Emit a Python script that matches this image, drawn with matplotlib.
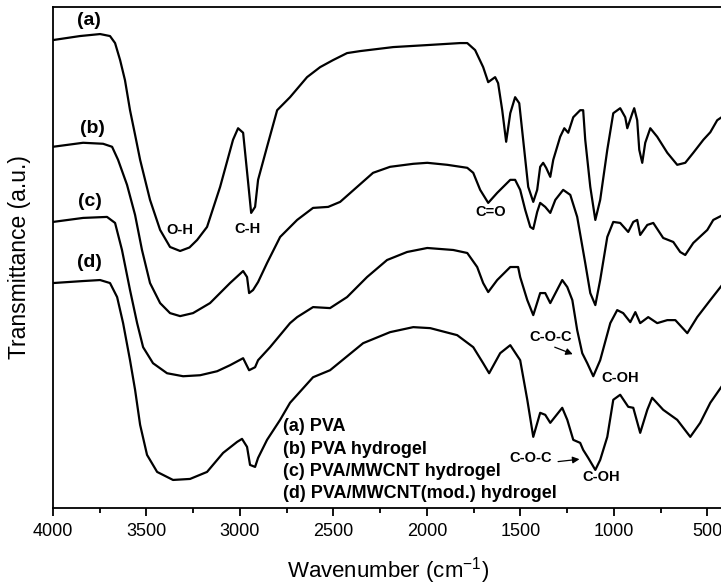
import matplotlib
matplotlib.use("Agg")
import matplotlib.pyplot as plt

plt.rcParams['font.family'] = ['Liberation Sans', 'DejaVu Sans']
plt.rcParams['mathtext.default'] = 'regular'

# FTIR spectra, wavenumber (cm-1) vs transmittance (a.u., offset)
wn_a = [4000, 3856, 3748, 3695, 3668, 3641, 3615, 3588, 3561, 3534, 3481, 3427, 3374, 3320, 3270,
        3229, 3176, 3106, 3037, 3010, 2983, 2956, 2940, 2919, 2903, 2855, 2801, 2732, 2641, 2571,
        2502, 2427, 2357, 2180, 1998, 1822, 1784, 1742, 1699, 1672, 1635, 1619, 1597, 1576, 1554,
        1528, 1506, 1485, 1458, 1431, 1410, 1394, 1378, 1362, 1340, 1324, 1287, 1265, 1244, 1217,
        1180, 1164, 1153, 1126, 1099, 1073, 1035, 1003, 966, 939, 928, 901, 891, 875, 864,
        848, 832, 805, 768, 714, 661, 618, 575, 521, 484, 447, 400]
t_a = [93.4, 94.2, 94.6, 94.2, 92.8, 89.4, 85.4, 79.4, 74.5, 69.5, 61.5, 55.5, 52.1, 51.3, 52.0,
       53.5, 56.1, 64.1, 73.5, 75.8, 74.9, 64.9, 58.9, 60.1, 65.5, 72.1, 79.4, 82.0, 86.0, 88.0,
       89.4, 90.8, 91.2, 92.0, 92.4, 92.8, 92.8, 91.4, 88.0, 85.0, 86.0, 84.8, 79.4, 73.1, 78.8,
       82.0, 80.8, 73.5, 64.1, 61.1, 63.5, 68.1, 68.9, 67.9, 66.1, 69.5, 74.1, 75.8, 74.9, 78.0,
       79.4, 79.4, 73.5, 64.1, 57.5, 61.5, 71.5, 78.8, 79.8, 78.0, 75.8, 78.8, 79.8, 77.4, 71.5,
       68.9, 72.9, 75.8, 74.1, 70.9, 68.5, 68.9, 70.9, 73.5, 75.0, 77.4, 78.6]

wn_b = [4000, 3839, 3732, 3684, 3652, 3604, 3561, 3524, 3481, 3427, 3374, 3320, 3251, 3160, 3053,
        2983, 2962, 2951, 2930, 2903, 2855, 2785, 2694, 2609, 2528, 2464, 2373, 2288, 2197, 2073,
        1998, 1891, 1784, 1752, 1715, 1672, 1624, 1554, 1528, 1501, 1474, 1447, 1431, 1410, 1394,
        1367, 1340, 1313, 1271, 1233, 1196, 1153, 1126, 1099, 1073, 1035, 1003, 966, 923, 896,
        875, 859, 821, 789, 736, 682, 645, 618, 575, 500, 468, 400]
t_b = [72.1, 72.9, 72.7, 72.1, 69.5, 64.5, 58.5, 51.5, 44.9, 40.9, 38.9, 38.3, 38.9, 40.9, 44.9,
       47.3, 46.1, 42.9, 43.5, 45.1, 48.9, 54.1, 57.5, 59.9, 60.1, 61.1, 64.1, 66.9, 68.1, 68.7,
       68.9, 68.5, 67.9, 66.9, 63.5, 60.9, 62.9, 65.5, 65.5, 63.5, 59.5, 56.1, 55.7, 59.1, 60.9,
       60.1, 58.9, 61.5, 63.5, 62.5, 58.1, 48.9, 42.9, 40.5, 45.5, 54.1, 57.1, 56.9, 55.1, 57.1,
       57.5, 54.5, 56.5, 56.9, 53.9, 53.1, 51.1, 50.5, 52.9, 55.5, 57.5, 58.8]

wn_c = [4000, 3839, 3711, 3668, 3631, 3588, 3550, 3518, 3465, 3390, 3304, 3213, 3122, 3053, 2983,
        2951, 2919, 2903, 2839, 2732, 2694, 2609, 2518, 2427, 2320, 2213, 2106, 1998, 1859, 1784,
        1731, 1699, 1672, 1624, 1554, 1512, 1501, 1463, 1431, 1394, 1367, 1340, 1276, 1249, 1222,
        1196, 1169, 1142, 1110, 1073, 1019, 982, 950, 912, 885, 859, 816, 768, 714, 671,
        607, 554, 484, 400]
t_c = [57.1, 57.9, 58.1, 56.9, 51.5, 43.5, 36.9, 32.1, 28.9, 26.9, 26.3, 26.5, 27.3, 28.5, 29.9,
       27.5, 28.1, 29.5, 32.1, 36.9, 38.1, 40.1, 39.9, 42.1, 46.1, 49.5, 51.1, 51.9, 51.5, 50.9,
       48.1, 44.9, 43.1, 45.5, 48.1, 48.1, 46.1, 41.5, 38.5, 42.9, 42.9, 40.9, 45.5, 44.1, 41.5,
       35.5, 30.9, 28.9, 26.3, 29.5, 36.9, 39.5, 38.9, 37.1, 39.1, 36.9, 38.1, 36.9, 37.5, 37.5,
       34.9, 38.1, 41.5, 45.5]

wn_d = [4000, 3839, 3748, 3695, 3657, 3625, 3588, 3561, 3534, 3497, 3443, 3358, 3267, 3176, 3090,
        3015, 2989, 2962, 2946, 2919, 2903, 2855, 2785, 2732, 2609, 2518, 2341, 2197, 2073, 1982,
        1838, 1752, 1699, 1667, 1608, 1554, 1501, 1463, 1431, 1394, 1367, 1340, 1276, 1249, 1217,
        1180, 1164, 1137, 1099, 1073, 1035, 1003, 966, 923, 896, 859, 821, 795, 736, 661,
        591, 538, 484, 400]
t_d = [44.9, 45.3, 45.5, 44.9, 42.1, 36.9, 29.5, 23.6, 16.6, 10.6, 7.2, 5.6, 5.8, 7.2, 11.0,
       13.2, 13.8, 12.2, 8.6, 8.2, 10.0, 13.6, 17.6, 21.0, 26.1, 27.5, 32.9, 35.1, 36.1, 35.9,
       34.5, 32.1, 28.9, 26.9, 30.9, 32.5, 29.5, 21.6, 14.2, 19.0, 18.6, 17.0, 20.0, 17.6, 13.6,
       13.0, 11.6, 10.0, 7.6, 9.6, 14.2, 21.6, 22.6, 20.2, 20.0, 15.0, 19.6, 22.0, 19.6, 17.6,
       14.2, 17.0, 21.0, 25.5]

curve_tags = ['(a)', '(b)', '(c)', '(d)']
tag_pos = [(3807, 97.4), (3791, 75.8), (3802, 61.1), (3807, 49.1)]
sample_names = ['(a) PVA', '(b) PVA hydrogel', '(c) PVA/MWCNT hydrogel',
                '(d) PVA/MWCNT(mod.) hydrogel']
band_labels = ['O-H', 'C-H', 'C=O', 'C-O-C', 'C-OH', 'C-O-C', 'C-OH']
band_pos = [(3320, 55.5), (2962, 55.7), (1661, 59.1), (1340, 34.1), (968, 26.0),
            (1445, 10.0), (1067, 6.1)]

fig = plt.figure(figsize=(7.21, 5.87), dpi=100)
ax = fig.add_axes([53/721, 79/587, 673/721, 501/587])

for x, y in [(wn_a, t_a), (wn_b, t_b), (wn_c, t_c), (wn_d, t_d)]:
    ax.plot(x, y, color='black', lw=1.6, solid_joinstyle='round')

ax.set_xlim(4000, 400)
ax.set_ylim(0, 100)
ax.set_xticks([4000, 3500, 3000, 2500, 2000, 1500, 1000, 500])
ax.set_xticks([3750, 3250, 2750, 2250, 1750, 1250, 750], minor=True)
ax.set_yticks([])
ax.tick_params(axis='x', which='major', direction='out', length=6, width=1.3,
               labelsize=13, pad=5)
ax.tick_params(axis='x', which='minor', direction='out', length=3.5, width=1.3)
for s in ax.spines.values():
    s.set_linewidth(1.3)
ax.spines['right'].set_visible(False)

for tag, (x, y) in zip(curve_tags, tag_pos):
    ax.text(x, y, tag, fontsize=14, fontweight='bold', ha='center', va='center')

for lab, (x, y) in zip(band_labels, band_pos):
    ax.text(x, y, lab, fontsize=10.5, fontweight='bold', ha='center', va='center')

# arrows towards the C-O-C shoulders
ax.annotate('', xy=(1206, 30.5), xytext=(1330, 32.3),
            arrowprops=dict(arrowstyle='-|>', color='black', lw=0.9, mutation_scale=10))
ax.annotate('', xy=(1169, 9.8), xytext=(1313, 9.2),
            arrowprops=dict(arrowstyle='-|>', color='black', lw=0.9, mutation_scale=10))

for i, name in enumerate(sample_names):
    ax.text(2769, 16.2 - i * 4.45, name, fontsize=13, fontweight='bold',
            ha='left', va='center')

fig.text(20/721, 0.562, 'Transmittance (a.u.)', rotation=90, fontsize=16.5,
         ha='center', va='center')
fig.text(388/721, 9/587, r'Wavenumber (cm$^{-1}$)', fontsize=16,
         ha='center', va='baseline')

fig.savefig('out.png', dpi=100)
